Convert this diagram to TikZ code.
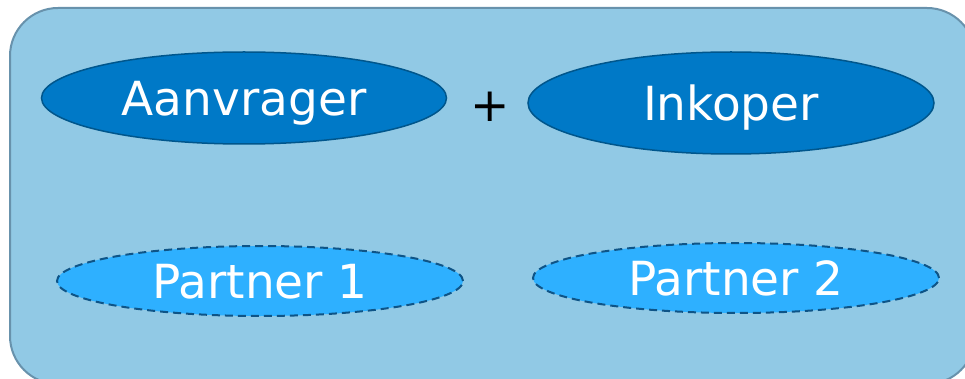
\documentclass[tikz,border=0pt]{standalone}
\usepackage{fontspec}
\setmainfont{DejaVu Sans}
\usetikzlibrary{shapes.geometric,positioning}
\definecolor{boxfill}{RGB}{145,201,229}
\definecolor{boxline}{RGB}{104,146,172}
\definecolor{rolefill}{RGB}{0,121,199}
\definecolor{roleline}{RGB}{0,86,140}
\definecolor{partnerfill}{RGB}{46,176,255}
\definecolor{partnerline}{RGB}{14,84,135}

\begin{document}
\begin{tikzpicture}[x=1pt,y=-1pt]
\useasboundingbox (0,0) rectangle (965,379);
\draw[boxline,fill=boxfill,line width=2pt,rounded corners=48pt] (10,8) rectangle (975,384);

\draw (244,98) node[ellipse,draw=roleline,fill=rolefill,line width=1.5pt,minimum width=405pt,minimum height=92pt,inner sep=0pt,text depth=0pt,text=white,font=\fontsize{47}{50}\selectfont] (aanvrager) {Aanvrager};
\node[ellipse,draw=roleline,fill=rolefill,line width=1.5pt,minimum width=406pt,minimum height=102pt,inner sep=0pt,text depth=0pt,text=white,font=\fontsize{47}{50}\selectfont] (inkoper) at (731,103) {Inkoper};
\node[font=\fontsize{47}{50}\selectfont] (plus) at (490,107) {+};

\node[ellipse,draw=partnerline,fill=partnerfill,dash pattern=on 8pt off 5pt,line width=2pt,minimum width=406pt,minimum height=70pt,inner sep=0pt,text depth=0pt,text=white,font=\fontsize{47}{50}\selectfont] (partner1) at (260,281) {Partner 1};
\node[ellipse,draw=partnerline,fill=partnerfill,dash pattern=on 8pt off 5pt,line width=2pt,minimum width=406pt,minimum height=70pt,inner sep=0pt,text depth=0pt,text=white,font=\fontsize{47}{50}\selectfont] (partner2) at (736,278) {Partner 2};

\end{tikzpicture}
\end{document}
